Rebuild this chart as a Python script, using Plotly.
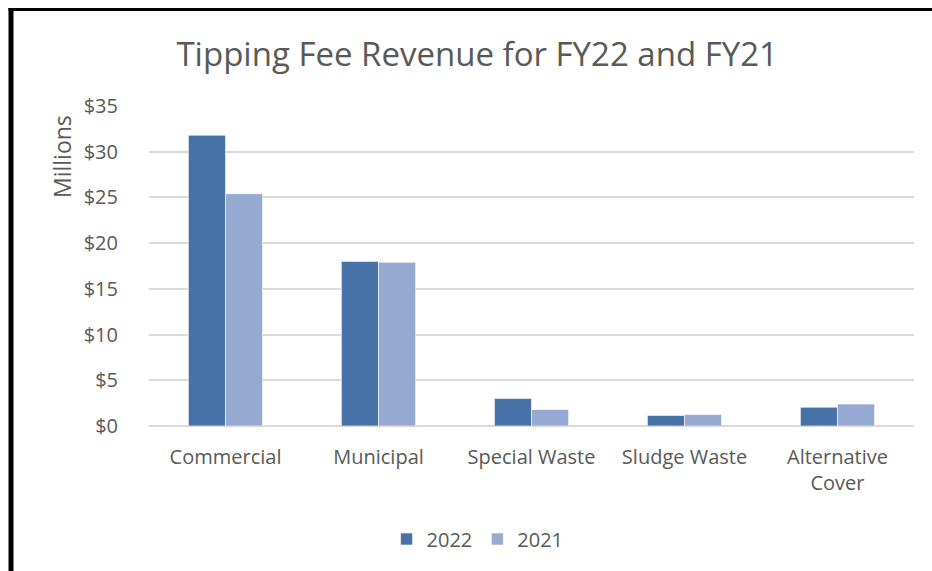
import plotly.graph_objects as go

categories = ["Commercial", "Municipal", "Special Waste", "Sludge Waste", "Alternative<br>Cover"]
values_2022 = [31.8, 18.0, 3.0, 1.15, 2.05]
values_2021 = [25.4, 17.9, 1.8, 1.25, 2.4]
tick_vals = [0, 5, 10, 15, 20, 25, 30, 35]
tick_text = ["$0", "$5", "$10", "$15", "$20", "$25", "$30", "$35"]

W, H = 932, 571
L, R, T, B = 149, 18, 106, 145
pw, ph = W - L - R, H - T - B

def px(x):
    return (x - L) / pw

def py(y):
    return 1 - (y - T) / ph

font_family = "Open Sans, Noto Sans, sans-serif"
grey = "#595959"

fig = go.Figure()
fig.add_trace(go.Bar(name="2022", x=categories, y=values_2022,
                     marker=dict(color="#4672A8", line=dict(color="#ffffff", width=0.6))))
fig.add_trace(go.Bar(name="2021", x=categories, y=values_2021,
                     marker=dict(color="#95A9D1", line=dict(color="#ffffff", width=0.6))))

fig.update_layout(
    width=W, height=H,
    margin=dict(l=L, r=R, t=T, b=B),
    paper_bgcolor="white", plot_bgcolor="white",
    barmode="group", bargap=0.515, bargroupgap=0,
    font=dict(family=font_family, color=grey, size=20),
    title=dict(text="Tipping Fee Revenue for FY22 and FY21", x=0.512, xanchor="center",
               y=1 - 54 / H, yanchor="middle",
               font=dict(size=33, color=grey, family=font_family)),
    xaxis=dict(showgrid=False, showline=False, zeroline=False,
               ticks="outside", ticklen=13, tickcolor="rgba(0,0,0,0)",
               tickfont=dict(size=20, color=grey), automargin=False),
    yaxis=dict(range=[0, 35], tickvals=tick_vals, ticktext=tick_text,
               showgrid=True, gridcolor="#d9d9d9", gridwidth=1.5,
               zeroline=True, zerolinecolor="#d9d9d9", zerolinewidth=1.5,
               showline=False, ticks="outside", ticklen=26, tickcolor="rgba(0,0,0,0)",
               tickfont=dict(size=20, color=grey), automargin=False),
    legend=dict(orientation="h", x=0.4295, xanchor="center", y=py(539), yanchor="middle",
                font=dict(size=20, color=grey), itemwidth=30, traceorder="normal"),
    showlegend=True,
)

# "Millions" display-units label at top of value axis
fig.add_annotation(text="Millions", xref="paper", yref="paper",
                   x=px(62), y=py(157), xanchor="center", yanchor="middle",
                   textangle=-90, showarrow=False,
                   font=dict(size=23, color=grey, family=font_family))

# outer border (left and top)
fig.add_shape(type="line", xref="paper", yref="paper",
              x0=px(11), x1=px(11), y0=py(8), y1=py(H + 2),
              line=dict(color="black", width=5))
fig.add_shape(type="line", xref="paper", yref="paper",
              x0=px(8.5), x1=px(W + 2), y0=py(9.5), y1=py(9.5),
              line=dict(color="black", width=3))

fig.write_html("out.html", config={"displayModeBar": False},
               post_script="document.body.style.margin='0';document.body.style.padding='0';")
